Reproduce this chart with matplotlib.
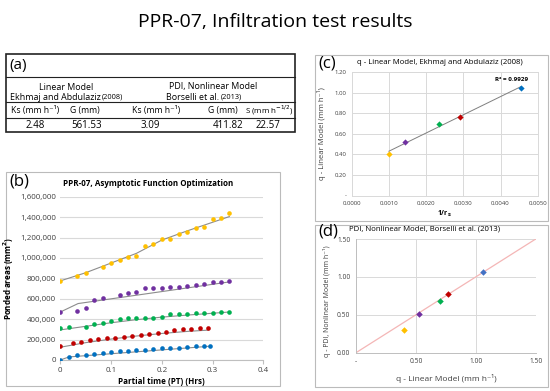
import numpy as np
import matplotlib
matplotlib.use("Agg")
import matplotlib.pyplot as plt
from matplotlib.patches import Rectangle

plt.rcParams['font.family'] = ['Open Sans', 'DejaVu Sans']

# ---------------- data ----------------
# Panel (b): ponded areas (mm^2) vs partial time (minutes -> hours)
yellow_min = [0, 2, 3, 5, 6, 7, 8, 9, 10, 11, 12, 13, 14, 15, 16, 17, 18, 19, 20]
yellow_val = [773e3, 825e3, 848e3, 913e3, 946e3, 982e3, 1008e3, 1021e3, 1113e3, 1135e3,
              1184e3, 1188e3, 1233e3, 1256e3, 1295e3, 1305e3, 1383e3, 1396e3, 1436e3]
purple_min = [0, 2, 3, 4, 5, 7, 8, 9, 10, 11, 12, 13, 14, 15, 16, 17, 18, 19, 20]
purple_val = [473e3, 477e3, 509e3, 587e3, 610e3, 633e3, 656e3, 666e3, 702e3, 708e3,
              708e3, 711e3, 718e3, 728e3, 734e3, 744e3, 760e3, 760e3, 773e3]
green_min = [0, 1, 3, 4, 5, 6, 7, 8, 9, 10, 11, 12, 13, 14, 15, 16, 17, 18, 19, 20]
green_val = [317e3, 320e3, 326e3, 349e3, 359e3, 382e3, 398e3, 411e3, 411e3, 411e3,
             414e3, 418e3, 447e3, 450e3, 450e3, 460e3, 460e3, 463e3, 467e3, 473e3]
red_min = [0, 1.5, 2.5, 3.5, 4.5, 5.5, 6.5, 7.5, 8.5, 9.5, 10.5, 11.5, 12.5, 13.5,
           14.5, 15.5, 16.5, 17.5]
red_val = [137e3, 170e3, 179e3, 199e3, 205e3, 215e3, 218e3, 228e3, 238e3, 241e3,
           251e3, 261e3, 274e3, 295e3, 307e3, 307e3, 317e3, 317e3]
blue_min = [0, 1, 2, 3, 4, 5, 6, 7, 8, 9, 10, 11, 12, 13, 14, 15, 16, 17, 17.7]
blue_val = [0, 33e3, 46e3, 52e3, 60e3, 67e3, 77e3, 84e3, 90e3, 97e3, 100e3, 106e3,
            113e3, 118e3, 122e3, 127e3, 134e3, 136e3, 137e3]

# fitted (asymptotic) curves
yellow_fit_t = [0, 0.05, 0.1, 0.15, 0.2, 0.25, 0.333]
yellow_fit_v = [775e3, 855e3, 950e3, 1045e3, 1175e3, 1265e3, 1405e3]
purple_fit_t = [0, 0.035, 0.333]
purple_fit_v = [470e3, 553e3, 765e3]
green_fit_t = [0, 0.05, 0.1, 0.15, 0.2, 0.25, 0.333]
green_fit_v = [295e3, 330e3, 365e3, 395e3, 420e3, 440e3, 470e3]
red_fit_t = [0, 0.05, 0.1, 0.15, 0.2, 0.25, 0.292]
red_fit_v = [125e3, 170e3, 205e3, 235e3, 260e3, 280e3, 293e3]
blue_fit_t = [0, 0.017, 0.295]
blue_fit_v = [0, 30e3, 135e3]

series_colors = ['#FFC000', '#7030A0', '#00B050', '#C00000', '#0070C0']

# Panel (c): q linear model vs 1/r_s
c_x = [0.00100, 0.00142, 0.00236, 0.00291, 0.00455]
c_y = [0.40, 0.525, 0.697, 0.768, 1.050]
r2_text = "R² = 0.9929"

# Panel (d): q PDI nonlinear vs q linear
d_x = [0.403, 0.525, 0.700, 0.769, 1.056]
d_y = [0.295, 0.515, 0.677, 0.778, 1.060]
d_colors = ['#FFC000', '#7030A0', '#00B050', '#C00000', '#4472C4']

# Table (a)
table_headers = ["Ks (mm h⁻¹)", "G (mm)", "Ks (mm h⁻¹)", "G (mm)", "S (mm h$^{-1/2}$)"]
table_values = ["2.48", "561.53", "3.09", "411.82", "22.57"]

# ---------------- figure ----------------
W, H = 550, 391
fig = plt.figure(figsize=(W / 100, H / 100), dpi=100)
fig.patch.set_facecolor('white')


def ax_px(x0, y0, x1, y1):
    """add axes from pixel box (top-left origin)"""
    return fig.add_axes([x0 / W, 1 - y1 / H, (x1 - x0) / W, (y1 - y0) / H])


# overlay for boxes and table
ov = fig.add_axes([0, 0, 1, 1])
ov.set_xlim(0, W)
ov.set_ylim(H, 0)
ov.axis('off')

ov.text(275, 22, "PPR-07, Infiltration test results", ha='center', va='center', fontsize=14)

# table box
ov.add_patch(Rectangle((6, 54), 289, 78, fill=False, lw=1.2, ec='#222222'))
for yy in (77, 102, 118):
    ov.plot([6, 295], [yy, yy], color='#222222', lw=0.8)
ov.text(9, 66, "(a)", fontsize=11, va='center', ha='left')
ov.text(66, 87, "Linear Model", fontsize=6.4, ha='center', va='center')
ov.text(101, 97.5, "Ekhmaj and Abdulaziz", fontsize=6.4, ha='right', va='center')
ov.text(102, 97.5, "(2008)", fontsize=5.3, ha='left', va='center')
ov.text(213, 87, "PDI, Nonlinear Model", fontsize=6.4, ha='center', va='center')
ov.text(219, 97.5, "Borselli et al.", fontsize=6.4, ha='right', va='center')
ov.text(221, 97.5, "(2013)", fontsize=5.3, ha='left', va='center')
col_x = [35, 85, 156, 223, 269]
col_fs = [6.2, 6.2, 6.2, 6.2, 5.8]
for cx, h, fs in zip(col_x, table_headers, col_fs):
    ov.text(cx, 110.5, h, fontsize=fs, ha='center', va='center')
val_x = [35, 87, 150, 228, 268]
for cx, v in zip(val_x, table_values):
    ov.text(cx, 126, v, fontsize=7, ha='center', va='center')

# panel boxes
box_ec = '#BBBBBB'
ov.add_patch(Rectangle((6, 172), 274, 214, fill=False, lw=0.8, ec=box_ec))
ov.add_patch(Rectangle((315, 55), 233, 166, fill=False, lw=0.8, ec=box_ec))
ov.add_patch(Rectangle((315, 225), 233, 162, fill=False, lw=0.8, ec=box_ec))

ov.text(9, 181, "(b)", fontsize=12, va='center', ha='left')
ov.text(148, 183, "PPR-07, Asymptotic Function Optimization", fontsize=5.8,
        fontweight='bold', ha='center', va='center')
ov.text(318, 64, "(c)", fontsize=12, va='center', ha='left')
ov.text(440, 63, "q - Linear Model, Ekhmaj and Abdulaziz (2008)", fontsize=5.6,
        ha='center', va='center')
ov.text(318, 232, "(d)", fontsize=12, va='center', ha='left')
ov.text(425, 229, "PDI, Nonlinear Model, Borselli et al. (2013)", fontsize=5.6,
        ha='center', va='center')

# ---------------- panel (b) ----------------
axb = ax_px(60.3, 196.7, 263.3, 360)
data_b = [
    (yellow_min, yellow_val, yellow_fit_t, yellow_fit_v),
    (purple_min, purple_val, purple_fit_t, purple_fit_v),
    (green_min, green_val, green_fit_t, green_fit_v),
    (red_min, red_val, red_fit_t, red_fit_v),
    (blue_min, blue_val, blue_fit_t, blue_fit_v),
]
for (mins, vals, ft, fv), col in zip(data_b, series_colors):
    axb.plot(ft, fv, color='#8C8C8C', lw=0.8, zorder=2)
    axb.scatter(np.array(mins) / 60.0, vals, s=11, color=col, zorder=3, linewidths=0)
axb.set_xlim(0, 0.4)
axb.set_ylim(0, 1600000)
axb.set_xticks([0, 0.1, 0.2, 0.3, 0.4])
axb.set_xticklabels(['0', '0.1', '0.2', '0.3', '0.4'])
axb.set_yticks(np.arange(0, 1600001, 200000))
axb.yaxis.set_major_formatter(matplotlib.ticker.FuncFormatter(lambda v, p: f"{int(v):,}"))
axb.grid(axis='y', color='#D9D9D9', lw=0.8)
axb.set_axisbelow(True)
for s in ('top', 'right', 'left'):
    axb.spines[s].set_visible(False)
axb.spines['bottom'].set_color('#BFBFBF')
axb.tick_params(axis='y', length=0, labelsize=5.8, pad=3, colors='#404040')
axb.tick_params(axis='x', length=3, color='#BFBFBF', labelsize=5.8, pad=2, labelcolor='#404040')
axb.set_xlabel("Partial time (PT) (Hrs)", fontsize=5.8, fontweight='bold', labelpad=2)
axb.set_ylabel("Ponded areas (mm$^\\mathbf{2}$)", fontsize=5.8, fontweight='bold', labelpad=3)
axb.patch.set_alpha(0)

# ---------------- panel (c) ----------------
axc = ax_px(351.7, 72.3, 537.7, 195.5)
slope, intercept = np.polyfit(c_x, c_y, 1)
xl = np.array([min(c_x), max(c_x)])
axc.plot(xl, slope * xl + intercept, color='#7F7F7F', lw=0.7, zorder=2)
for x, y, col in zip(c_x, c_y, series_colors):
    axc.scatter([x], [y], marker='D', s=10, color=col, zorder=3, linewidths=0)
axc.set_xlim(0, 0.005)
axc.set_ylim(0, 1.2)
axc.set_xticks(np.arange(0, 0.00501, 0.001))
axc.set_xticklabels([f"{v:.4f}" for v in np.arange(0, 0.00501, 0.001)])
axc.set_yticks(np.arange(0, 1.21, 0.2))
axc.set_yticklabels(['-', '0.20', '0.40', '0.60', '0.80', '1.00', '1.20'])
axc.grid(True, color='#D9D9D9', lw=0.7)
axc.set_axisbelow(True)
for s in axc.spines.values():
    s.set_color('#D9D9D9')
    s.set_linewidth(0.7)
axc.tick_params(length=0, labelsize=4.3, pad=4, colors='#404040')
axc.text(0.00473, 1.13, r2_text, fontsize=4.5, fontweight='bold', ha='right', va='center')
axc.set_xlabel("1/r$_\\mathbf{s}$", fontsize=5, fontweight='bold', labelpad=2)
axc.set_ylabel("q - Linear Model (mm h⁻¹)", fontsize=5.6, labelpad=6, color='#404040')
axc.patch.set_alpha(0)

# ---------------- panel (d) ----------------
axd = ax_px(356, 239, 535.7, 352.7)
axd.plot([0, 1.5], [0, 1.5], color='#F4B6B6', lw=0.9, zorder=2)
for x, y, col in zip(d_x, d_y, d_colors):
    axd.scatter([x], [y], marker='D', s=11, color=col, zorder=3, linewidths=0)
axd.set_xlim(0, 1.5)
axd.set_ylim(0, 1.5)
axd.set_xticks([0, 0.5, 1.0, 1.5])
axd.set_xticklabels(['-', '0.50', '1.00', '1.50'])
axd.set_yticks([0, 0.5, 1.0, 1.5])
axd.set_yticklabels(['0.00', '0.50', '1.00', '1.50'])
axd.grid(True, color='#D9D9D9', lw=0.7)
axd.set_axisbelow(True)
for s in ('top', 'right'):
    axd.spines[s].set_visible(False)
for s in ('left', 'bottom'):
    axd.spines[s].set_color('#BFBFBF')
    axd.spines[s].set_linewidth(0.7)
axd.tick_params(length=0, labelsize=4.8, pad=4, colors='#404040')
axd.set_xlabel("q - Linear Model (mm h⁻¹)", fontsize=6, labelpad=6, color='#404040')
axd.set_ylabel("q - PDI, Nonlinear Model (mm h⁻¹)", fontsize=5.0, labelpad=4, color='#404040')
axd.yaxis.set_label_coords(-0.14, 0.45)
axd.patch.set_alpha(0)

fig.savefig("out.png", dpi=100)
